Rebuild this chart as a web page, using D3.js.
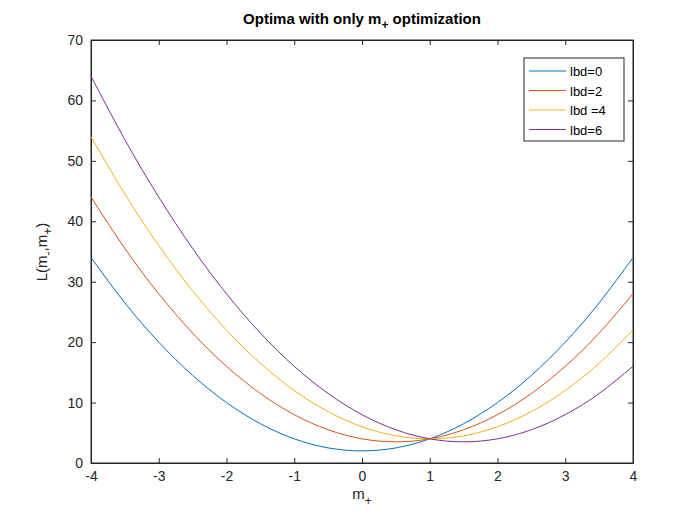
<!DOCTYPE html>
<html><head><meta charset="utf-8">
<script src="https://d3js.org/d3.v7.min.js"></script>
<style>body{margin:0;background:#fff}text{font-family:"Liberation Sans",Arial,sans-serif}</style>
</head><body><svg id="c" width="700" height="525"></svg>
<script>
const mPlus=[-4,-3.5,-3,-2.5,-2,-1.5,-1,-0.5,0,0.5,1,1.5,2,2.5,3,3.5,4];
const lbd0=[34,26.5,20,14.5,10,6.5,4,2.5,2,2.5,4,6.5,10,14.5,20,26.5,34];
const lbd2=[44,35.5,28,21.5,16,11.5,8,5.5,4,3.5,4,5.5,8,11.5,16,21.5,28];
const lbd4=[54,44.5,36,28.5,22,16.5,12,8.5,6,4.5,4,4.5,6,8.5,12,16.5,22];
const lbd6=[64,53.5,44,35.5,28,21.5,16,11.5,8,5.5,4,3.5,4,5.5,8,11.5,16];
const names=["lbd=0","lbd=2","lbd =4","lbd=6"];
const colors=["#0072BD","#D95319","#EDB120","#7E2F8E"];
const xTicks=[-4,-3,-2,-1,0,1,2,3,4];
const yTicks=[0,10,20,30,40,50,60,70];
const series=[lbd0,lbd2,lbd4,lbd6];

const svg=d3.select("#c");
const L=91,R=633,T=40,B=463;
const x=d3.scaleLinear().domain([-4,4]).range([L,R]);
const y=d3.scaleLinear().domain([0,70]).range([B,T]);
const fmt=d=>String(d);
svg.append("g").attr("transform",`translate(0,${B})`).call(d3.axisBottom(x).tickValues(xTicks).tickFormat(fmt).tickSizeInner(-5).tickSizeOuter(0).tickPadding(8));
svg.append("g").attr("transform",`translate(${L},0)`).call(d3.axisLeft(y).tickValues(yTicks).tickFormat(fmt).tickSizeInner(-5).tickSizeOuter(0).tickPadding(8));
svg.append("g").attr("transform",`translate(0,${T})`).call(d3.axisTop(x).tickValues(xTicks).tickSizeInner(-5).tickSizeOuter(0).tickFormat(""));
svg.append("g").attr("transform",`translate(${R},0)`).call(d3.axisRight(y).tickValues(yTicks).tickSizeInner(-5).tickSizeOuter(0).tickFormat(""));
svg.selectAll(".domain,.tick line").attr("stroke","#262626");
svg.selectAll(".tick text").attr("font-size",14).attr("fill","#262626").attr("font-family","Liberation Sans,Arial");
svg.append("rect").attr("x",L).attr("y",T).attr("width",R-L).attr("height",B-T).attr("fill","none").attr("stroke","#262626");
const line=d3.line().x((d,i)=>x(mPlus[i])).y(d=>y(d)).curve(d3.curveNatural);
series.forEach((s,i)=>svg.append("path").attr("d",line(s)).attr("fill","none").attr("stroke",colors[i]).attr("stroke-width",1));

const t=svg.append("text").attr("x",362).attr("y",24).attr("text-anchor","middle").attr("font-size",15).attr("font-weight","bold").attr("fill","#000");
t.append("tspan").text("Optima with only m");
t.append("tspan").text("+").attr("font-size",12).attr("dy",5);
t.append("tspan").text(" optimization").attr("dy",-5);
const xl=svg.append("text").attr("x",362).attr("y",499).attr("text-anchor","middle").attr("font-size",15).attr("fill","#262626");
xl.append("tspan").text("m");xl.append("tspan").text("+").attr("font-size",12).attr("dy",6);
const yl=svg.append("text").attr("transform","translate(47,252) rotate(-90)").attr("text-anchor","middle").attr("font-size",15).attr("fill","#262626");
yl.append("tspan").text("L(m");yl.append("tspan").text("-").attr("font-size",12).attr("dy",5);
yl.append("tspan").text(",m").attr("dy",-5);yl.append("tspan").text("+").attr("font-size",12).attr("dy",5);
yl.append("tspan").text(")").attr("dy",-5);

const lg=svg.append("g");
lg.append("rect").attr("x",524).attr("y",58).attr("width",100).attr("height",83).attr("fill","#fff").attr("stroke","#262626");
names.forEach((n,i)=>{
  const yy=71+i*19.5;
  lg.append("line").attr("x1",529).attr("x2",566).attr("y1",yy).attr("y2",yy).attr("stroke",colors[i]);
  lg.append("text").attr("x",570).attr("y",yy+5).attr("font-size",13).attr("fill","#000").text(n);
});
</script></body></html>
